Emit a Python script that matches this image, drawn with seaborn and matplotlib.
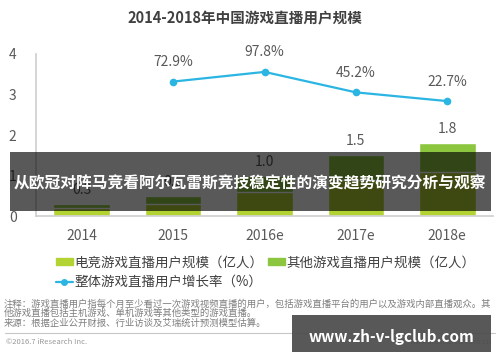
import numpy as np
import pandas as pd
import seaborn as sns
import matplotlib.pyplot as plt
from matplotlib.patches import Rectangle, Patch
from matplotlib.lines import Line2D

years = ["2014", "2015", "2016e", "2017e", "2018e"]
total_users = [0.3, 0.5, 1.0, 1.5, 1.8]
esports_users = [0.2, 0.3, 0.6, 0.9, 1.1]
growth_years = ["2015", "2016e", "2017e", "2018e"]
growth_rate = [72.9, 97.8, 45.2, 22.7]

c_esports = "#b3d333"
c_other = "#8cc63f"
c_line = "#2bb5e3"
c_text = "#595959"

sns.set_theme(style="white")
plt.rcParams["font.family"] = ["Noto Sans CJK SC", "DejaVu Sans"]

df = pd.DataFrame({"year": years, "total": total_users, "esports": esports_users})

fig = plt.figure(figsize=(5, 3.62), dpi=100)
ax = fig.add_axes([0.072, 0.403, 0.914, 0.448])

sns.barplot(data=df, x="year", y="total", color=c_other, width=0.62,
            saturation=1, ax=ax, order=years)
sns.barplot(data=df, x="year", y="esports", color=c_esports, width=0.62,
            saturation=1, ax=ax, order=years)
ax.bar_label(ax.containers[0], fmt="%.1f", padding=5, fontsize=10, color=c_text)

ax.set_ylim(0, 4)
ax.set_xlim(-0.5, 4.5)
ax.set_yticks([0, 1, 2, 3, 4])
ax.set_xlabel("")
ax.set_ylabel("")
ax.tick_params(axis="both", length=0, labelsize=10, labelcolor=c_text)
ax.tick_params(axis="y", pad=14)
ax.tick_params(axis="x", pad=9)
for s in ["top", "right"]:
    ax.spines[s].set_visible(False)
for s in ["left", "bottom"]:
    ax.spines[s].set_color("#d0d0d0")

ax2 = ax.twinx()
gx = [years.index(y) for y in growth_years]
sns.lineplot(x=gx, y=growth_rate, ax=ax2, color=c_line, marker="o",
             markersize=5.5, markeredgewidth=0, linewidth=1.6)
for x, v in zip(gx, growth_rate):
    ax2.annotate(f"{v}%", (x, v), xytext=(0, 9), textcoords="offset points",
                 ha="center", va="bottom", fontsize=10, color=c_text)
ax2.set_ylim(-273, 144)
ax2.axis("off")
ax.set_xlim(-0.5, 4.5)

fig.text(0.49, 0.95, "2014-2018年中国游戏直播用户规模", ha="center", va="center",
         fontsize=10.5, fontweight="bold", color="#404040")

handles = [Patch(color=c_esports), Line2D([], [], color=c_line, marker="o", markersize=4, lw=1.6),
           Patch(color=c_other)]
labels = ["电竞游戏直播用户规模（亿人）", "整体游戏直播用户增长率（%）", "其他游戏直播用户规模（亿人）"]
fig.legend(handles, labels, ncol=2, loc="upper left", bbox_to_anchor=(0.098, 0.313),
           frameon=False, fontsize=9.7, handlelength=1.3, handleheight=0.5,
           handletextpad=0.1, columnspacing=0.3, labelspacing=0.4, borderpad=0,
           labelcolor="#404040")

notes = ("注释：游戏直播用户指每个月至少看过一次游戏视频直播的用户，包括游戏直播平台的用户以及游戏内部直播观众。其\n"
         "他游戏直播包括主机游戏、单机游戏等其他类型的游戏直播。\n"
         "来源：根据企业公开财报、行业访谈及艾瑞统计预测模型估算。")
fig.text(0.008, 0.175, notes, ha="left", va="top", fontsize=6.75, color="#7f7f7f",
         linespacing=1.08)
fig.add_artist(Line2D([0.01, 0.99], [0.08, 0.08], color="#c8c8c8", lw=0.8))
fig.text(0.012, 0.055, "©2016.7 iResearch Inc.", ha="left", va="center", fontsize=5.5, color="#999999")
fig.text(0.985, 0.055, "www.iresearch.com.cn", ha="right", va="center", fontsize=5.5, color="#999999")

# watermark overlays
fig.add_artist(Rectangle((0.02, 0.417), 0.962, 0.163, transform=fig.transFigure,
                         facecolor="black", alpha=0.65, lw=0, zorder=10))
fig.text(0.5, 0.494, "从欧冠对阵马竞看阿尔瓦雷斯竞技稳定性的演变趋势研究分析与观察",
         ha="center", va="center", fontsize=11.3, fontweight="bold", color="white", zorder=11)
fig.add_artist(Rectangle((0.584, 0.028), 0.398, 0.102, transform=fig.transFigure,
                         facecolor="#4a4a4a", alpha=0.92, lw=0, zorder=10))
fig.text(0.782, 0.069, "www.zh-v-lgclub.com", ha="center", va="center", fontsize=11,
         fontweight="bold", color="white", zorder=11)

fig.savefig("out.png", dpi=100)
